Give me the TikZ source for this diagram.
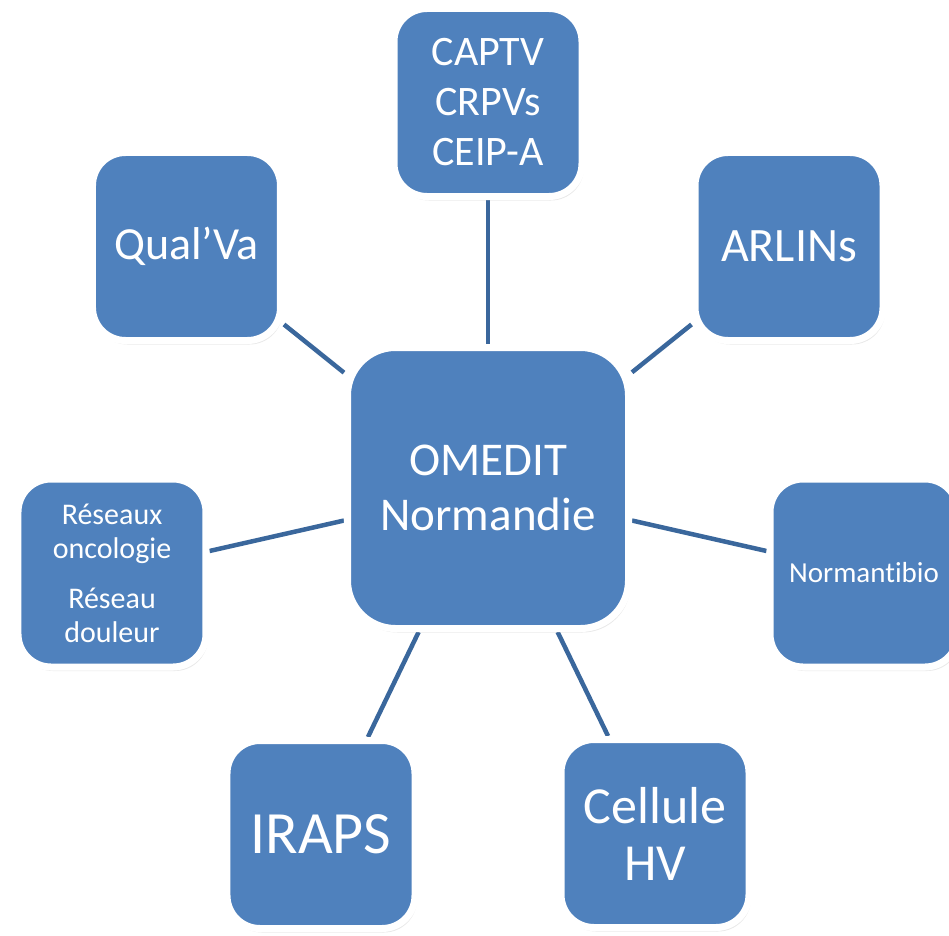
\documentclass[tikz,border=0pt]{standalone}
\usepackage{fontspec}
\setmainfont{Carlito}[Ligatures=NoCommon]
\usetikzlibrary{shadows,backgrounds}
\definecolor{boxblue}{HTML}{4F81BD}
\definecolor{linkblue}{HTML}{3A679C}
\begin{document}
\begin{tikzpicture}[x=1pt, y=1pt, style={
    box/.style={
      rectangle,
      draw=white,
      line width=7pt,
      fill=boxblue,
      text=white,
      align=center,
      inner sep=0pt,
      drop shadow={opacity=0.18, shadow xshift=2pt, shadow yshift=-4pt},
    },
    smallbox/.style={
      box,
      minimum size=188pt,
      rounded corners=33pt,
    },
    bigbox/.style={
      box,
      minimum size=281pt,
      rounded corners=48pt,
    },
    link/.style={draw=linkblue, line width=4.5pt}
  }]
  \useasboundingbox (-488,-447) rectangle (461,488);
  \draw[]
    node[bigbox, font=\fontsize{47}{55}\selectfont] (omedit) at (0,0)
      {OMEDIT\\Normandie}
    node[smallbox, font=\fontsize{42}{50}\selectfont] (captv) at (0,385.5)
      {CAPTV\\CRPVs\\CEIP-A}
    node[smallbox, font=\fontsize{46}{54}\selectfont] (qualva) at (-301.5,241.5)
      {Qual’Va}
    node[smallbox, font=\fontsize{48}{56}\selectfont] (arlin) at (301,241.5)
      {ARLINs}
    node[smallbox, font=\fontsize{30}{34}\selectfont] (reseaux) at (-376,-85)
      {Réseaux\\oncologie\\[16pt]Réseau\\douleur}
    node[smallbox, font=\fontsize{29}{34}\selectfont] (normantibio) at (376,-85)
      {Normantibio}
    node[smallbox, font=\fontsize{60}{70}\selectfont] (iraps) at (-167,-346.5)
      {IRAPS}
    node[smallbox, font=\fontsize{52}{57}\selectfont] (cellule) at (167,-345.5)
      {Cellule\\HV}
  ;
  \begin{scope}[on background layer]
    \foreach \other in {captv, qualva, arlin, reseaux, normantibio, iraps, cellule}
      \draw[link] (omedit) -- (\other);
  \end{scope}
\end{tikzpicture}
\end{document}
